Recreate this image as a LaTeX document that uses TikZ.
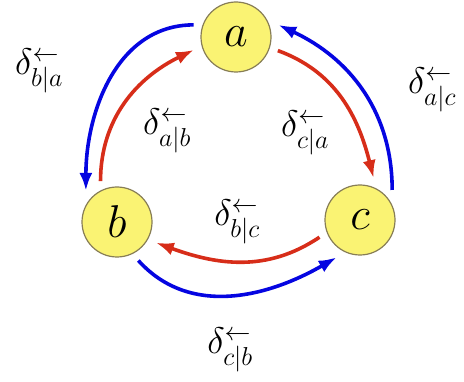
\documentclass[tikz,border=0pt]{standalone}
\usepackage{fix-cm}
\usepackage{amsmath, amssymb}
\usepackage{xcolor}
\usepackage{tikz}
\usetikzlibrary{arrows.meta}

\definecolor{nodeyellow}{RGB}{250,243,115}
\definecolor{nodeedge}{RGB}{135,125,85}
\definecolor{arrblue}{RGB}{5,5,225}
\definecolor{arrred}{RGB}{215,45,25}

\tikzset{
    state/.style={circle, draw=nodeedge, line width=1.2pt, fill=nodeyellow,
        minimum size=70pt, inner sep=0pt, outer sep=9pt,
        font=\fontsize{46}{50}\selectfont},
    lbl/.style={font=\fontsize{37}{40}\selectfont},
    bluearr/.style={->, arrblue, line width=3.6pt},
    redarr/.style={->, arrred, line width=3.6pt}
}

\begin{document}
\begin{tikzpicture}[>={Latex[length=18pt,width=13pt]}, x=1pt, y=1pt]
    \useasboundingbox (0,0) rectangle (464,381);

    % 1. Ba nút trạng thái
    \node[state] (a) at (236,344) {$a$};
    \node[state] (b) at (117,159) {$b$};
    \node[state] (c) at (360,161) {$c$};

    % 2. Cung ngoài màu xanh
    \draw[bluearr] (a.164) to[out=180, in=90] (b.135);
    \draw[bluearr] (c.43) to[out=90, in=-25] (a.16);
    \draw[bluearr] (b.-61) to[out=-48, in=210] (c.238);

    % 3. Cung trong màu đỏ
    \draw[redarr] (b.112) to[out=90, in=206] (a.197);
    \draw[redarr] (a.-18) to[out=-20, in=104] (c.72);
    \draw[redarr] (c.203) to[out=214, in=-20] (b.-28);

    % 4. Nhãn
    \node[lbl] (lba) at (39,310) {$\delta^{\leftarrow}_{b|a}$};
    \node[lbl] (lab) at (167,250) {$\delta^{\leftarrow}_{a|b}$};
    \node[lbl] (lca) at (305,248) {$\delta^{\leftarrow}_{c|a}$};
    \node[lbl] (lac) at (432,291) {$\delta^{\leftarrow}_{a|c}$};
    \node[lbl] (lbc) at (237,159) {$\delta^{\leftarrow}_{b|c}$};
    \node[lbl] (lcb) at (230,31) {$\delta^{\leftarrow}_{c|b}$};
\end{tikzpicture}
\end{document}
